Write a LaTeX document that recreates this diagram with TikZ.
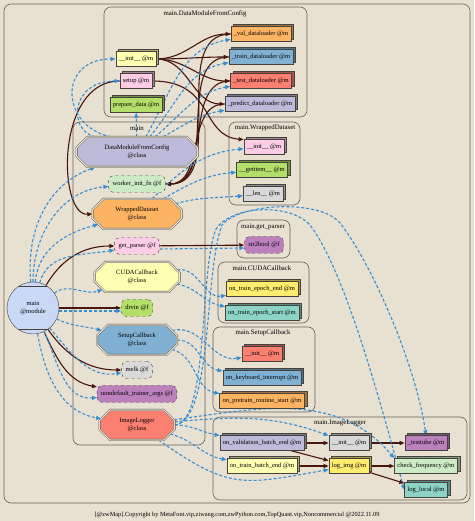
\documentclass[tikz,border=0pt]{standalone}
\usepackage{fontspec}
\setmainfont{Liberation Serif}
\usetikzlibrary{arrows.meta, shapes.misc, shadows}
\pgfdeclarelayer{back}
\pgfsetlayers{back,main}
\definecolor{paper}{RGB}{232,224,209}
\definecolor{callc}{RGB}{72,22,12}
\definecolor{ownc}{RGB}{52,142,212}
\definecolor{clusc}{RGB}{105,97,88}
\definecolor{nodec}{RGB}{70,66,62}
\definecolor{sTeal}{HTML}{8DD3C7}
\definecolor{sYellow}{HTML}{FFFFB3}
\definecolor{sLav}{HTML}{BEBADA}
\definecolor{sSalmon}{HTML}{FB8072}
\definecolor{sBlue}{HTML}{80B1D3}
\definecolor{sOrange}{HTML}{FDB462}
\definecolor{sGreen}{HTML}{B3DE69}
\definecolor{sPink}{HTML}{FCCDE5}
\definecolor{sGrey}{HTML}{D9D9D9}
\definecolor{sPurple}{HTML}{BC80BD}
\definecolor{sMint}{HTML}{CCEBC5}
\definecolor{sGold}{HTML}{FFED6F}
\definecolor{modc}{RGB}{200,216,245}

\begin{document}
\begin{tikzpicture}[x=1pt, y=1pt,
    font=\fontsize{6.5}{7.5}\selectfont,
    clus/.style={draw=clusc, rounded corners=7pt, line width=0.6pt},
    clab/.style={font=\fontsize{6.8}{8}\selectfont},
    meth/.style={draw=nodec, fill=#1, line width=0.4pt, inner xsep=3pt,
      inner ysep=0pt, minimum height=15pt,
      copy shadow={shadow xshift=2.5pt, shadow yshift=2.5pt, fill=#1!65!black, draw=nodec}},
    func/.style={draw=nodec, fill=#1, dashed, rounded corners=5pt,
      inner xsep=4pt, minimum height=17pt},
    cls/.style={chamfered rectangle, chamfered rectangle xsep=12pt, draw=nodec,
      double=paper, double distance=1.2pt, fill=#1, align=center, inner sep=1pt,
      minimum height=30pt},
    modl/.style={circle, draw=nodec, fill=modc, minimum size=52pt, inner sep=0pt,
      align=center,
      path picture={
        \draw[nodec] ([yshift=-4.5pt]path picture bounding box.north west) -- ([yshift=-4.5pt]path picture bounding box.north east);
        \draw[nodec] ([yshift=4.5pt]path picture bounding box.south west) -- ([yshift=4.5pt]path picture bounding box.south east);}},
    call/.style={-{Triangle[length=5pt,width=4pt]}, callc, line width=1.1pt},
    own/.style={-{Triangle[length=5pt,width=4pt]}, ownc, line width=1.1pt,
      dash pattern=on 3pt off 2pt}]
  \useasboundingbox (0,0) rectangle (474,521);

  % cluster titles
  \node[clab] (tdm) at (205,507) {main.DataModuleFromConfig};
  \node[clab] (tmain) at (137,393) {main};
  \node[clab] (twd) at (265,393) {main.WrappedDataset};
  \node[clab] (tgp) at (263,294) {main.get\_parser};
  \node[clab] (tcc) at (262,253) {main.CUDACallback};
  \node[clab] (tsc) at (263,188) {main.SetupCallback};
  \node[clab] (til) at (340,98) {main.ImageLogger};

  % main.DataModuleFromConfig
  \node[meth=sYellow] (dinit) at (136,462) {\_\_init\_\_ @m};
  \node[meth=sPink] (dsetup) at (136,440) {setup @m};
  \node[meth=sGreen] (dprep) at (136,416) {prepare\_data @m};
  \node[meth=sOrange] (dval) at (261,487) {\_val\_dataloader @m};
  \node[meth=sBlue] (dtrain) at (261,464) {\_train\_dataloader @m};
  \node[meth=sSalmon] (dtest) at (261,440) {\_test\_dataloader @m};
  \node[meth=sLav] (dpred) at (260,417) {\_predict\_dataloader @m};

  % main
  \node[modl] (mainmod) at (33,213) {main\\@module};
  \node[cls=sLav, minimum width=121pt] (cdm) at (137,369) {DataModuleFromConfig\\@class};
  \node[func=sMint] (fwork) at (137,337) {worker\_init\_fn @f};
  \node[cls=sOrange, minimum width=89pt] (cwd) at (137,307) {WrappedDataset\\@class};
  \node[func=sPink] (fparser) at (137,275) {get\_parser @f};
  \node[cls=sYellow, minimum width=85pt] (ccuda) at (137,244) {CUDACallback\\@class};
  \node[func=sGreen] (fdrvin) at (137,213) {drvin @f};
  \node[cls=sBlue, minimum width=80pt] (csetup) at (137,181) {SetupCallback\\@class};
  \node[func=sGrey] (fmelk) at (137,151) {melk @f};
  \node[func=sPurple] (fnondef) at (137,127) {nondefault\_trainer\_args @f};
  \node[cls=sSalmon, minimum width=75pt] (cimg) at (137,96) {ImageLogger\\@class};

  % main.WrappedDataset
  \node[meth=sPink] (winit) at (264,374) {\_\_init\_\_ @m};
  \node[meth=sGreen] (wget) at (262,351) {\_\_getitem\_\_ @m};
  \node[meth=sGrey] (wlen) at (263,327) {\_\_len\_\_ @m};

  % main.get_parser
  \node[func=sPurple] (fstr) at (264,276) {str2bool @f};

  % main.CUDACallback
  \node[meth=sGold] (cend) at (262,232) {on\_train\_epoch\_end @m};
  \node[meth=sTeal] (cstart) at (262,208) {on\_train\_epoch\_start @m};

  % main.SetupCallback
  \node[meth=sSalmon] (sinit) at (262,167) {\_\_init\_\_ @m};
  \node[meth=sBlue] (skey) at (262,143) {on\_keyboard\_interrupt @m};
  \node[meth=sOrange] (spre) at (262,120) {on\_pretrain\_routine\_start @m};

  % main.ImageLogger
  \node[meth=sLav] (ival) at (262,78) {on\_validation\_batch\_end @m};
  \node[meth=sGrey] (iinit) at (349,78) {\_\_init\_\_ @m};
  \node[meth=sPurple] (itest) at (426,78) {\_testtube @m};
  \node[meth=sYellow] (itrain) at (262,55) {on\_train\_batch\_end @m};
  \node[meth=sGold] (ilog) at (349,55) {log\_img @m};
  \node[meth=sMint] (icheck) at (426,55) {check\_frequency @m};
  \node[meth=sTeal] (ilocal) at (426,31) {log\_local @m};

  \node[font=\fontsize{6.3}{7}\selectfont] (foot) at (237,6)
    {[@zwMap].Copyright by MetaFont.vip,ziwang.com,zwPython.com,TopQuant.vip,Noncommercial @2022.11.09};

  \begin{pgfonlayer}{back}
    \fill[paper] (0,0) rectangle (474,521);
    \draw[clus] (4,18) rectangle (470,517);
    \draw[clus] (104,404) rectangle (307,514);
    \draw[clus] (73,76) rectangle (205,399);
    \draw[clus] (229,316) rectangle (300,399);
    \draw[clus] (237,263) rectangle (290,301);
    \draw[clus] (218,198) rectangle (309,259);
    \draw[clus] (213,109) rectangle (315,194);
    \draw[clus] (213,21) rectangle (467,104);

    % calls
    \draw[call] (mainmod) to[out=60,in=180] (fparser);
    \draw[call] (mainmod) -- (fdrvin);
    \draw[call] (mainmod) to[out=-55,in=180] (fmelk);
    \draw[call] (mainmod) to[out=-65,in=170] (fnondef);
    \draw[call] (fparser) -- (fstr);
    \foreach \t in {dval,dtrain,dtest,dpred}
      \draw[call] (dinit.east) to[out=0,in=180] (\t.west);
    \foreach \t in {dval,dtrain,dtest,dpred}
      \draw[call] (\t.west) to[out=180,in=0] (fwork.east);
    \draw[call] (dsetup.west) .. controls (55,440) and (58,305) .. (cwd.west);
    \draw[call] (dsetup.east) .. controls (215,440) and (200,385) .. (winit.160);
    \draw[call] (ival) -- (iinit);
    \draw[call] (ival) -- (ilog);
    \draw[call] (iinit) -- (itest);
    \draw[call] (itrain) -- (ilog);
    \draw[call] (ilog) -- (icheck);
    \draw[call] (ilog) -- (ilocal);

    % members
    \draw[own] (mainmod) to[out=95,in=200] (cdm);
    \draw[own] (mainmod) to[out=90,in=185] (fwork);
    \draw[own] (mainmod) to[out=85,in=195] (cwd);
    \draw[own] (mainmod) to[out=75,in=190] (fparser);
    \draw[own] (mainmod) to[out=35,in=200] (ccuda);
    \draw[own] ([yshift=-3pt]mainmod.east) -- ([yshift=-3pt]fdrvin.west);
    \draw[own] (mainmod) to[out=-25,in=165] (csetup);
    \draw[own] (mainmod) to[out=-50,in=190] (fmelk);
    \draw[own] (mainmod) to[out=-65,in=185] (fnondef);
    \draw[own] (mainmod) to[out=-80,in=170] (cimg);
    \draw[own] (cdm.150) .. controls (60,395) and (58,462) .. (dinit.west);
    \draw[own] (cdm.160) .. controls (68,390) and (70,440) .. (dsetup.west);
    \draw[own] (cdm) -- (dprep);
    \foreach \t/\a in {dval/60, dtrain/50, dtest/40, dpred/30}
      \draw[own] (cdm) to[out=\a,in=190] (\t);
    \foreach \t/\a in {winit/45, wget/30, wlen/15}
      \draw[own] (cwd) to[out=\a,in=185] (\t);
    \draw[own] ([yshift=-3pt]fparser.east) -- ([yshift=-3pt]fstr.west);
    \draw[own] (ccuda) to[out=10,in=190] (cend);
    \draw[own] (ccuda) to[out=-10,in=170] (cstart);
    \draw[own] (csetup) to[out=15,in=190] (sinit);
    \draw[own] (csetup) to[out=0,in=170] (skey);
    \draw[own] (csetup) to[out=-15,in=170] (spre);
    \draw[own] (cimg) to[out=0,in=170] (ival);
    \draw[own] (cimg) to[out=-15,in=170] (itrain);
    \draw[own] (cimg) to[out=5,in=160] (iinit);
    \draw[own] (cimg) to[out=-35,in=190,looseness=1.3] (ilog);
    \draw[own] (cimg) to[out=8,in=130] (icheck.north west);
    \draw[own] (cimg.east) .. controls (213,100) and (204,250) .. (222,296)
      .. controls (240,318) and (320,322) .. (340,298)
      .. controls (370,260) and (415,160) .. (itest.north);
    \draw[own] (cimg.east) .. controls (209,98) and (199,250) .. (216,292)
      .. controls (232,316) and (290,318) .. (310,296)
      .. controls (345,250) and (380,120) .. (ilocal.west);
  \end{pgfonlayer}
\end{tikzpicture}
\end{document}
